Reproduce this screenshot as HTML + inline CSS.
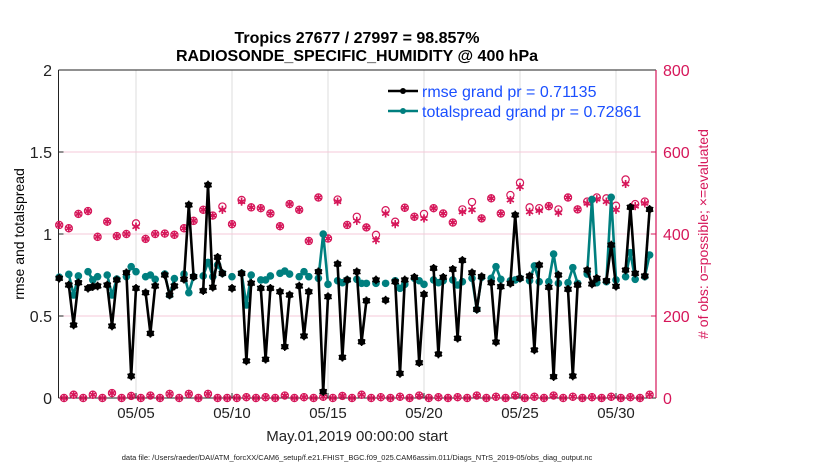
<!DOCTYPE html>
<html><head><meta charset="utf-8"><style>
html,body{margin:0;padding:0;background:#fff;}
svg{display:block;font-family:"Liberation Sans",sans-serif;}
</style></head><body>
<svg id="chart" width="830" height="470" viewBox="0 0 830 470">
<text x="357" y="43" text-anchor="middle" font-size="16" font-weight="bold">Tropics 27677 / 27997 = 98.857%</text>
<text x="357" y="61" text-anchor="middle" font-size="16" font-weight="bold">RADIOSONDE_SPECIFIC_HUMIDITY @ 400 hPa</text>
<g id="grid"></g>
<g id="axes"></g>
<g id="obs"></g>
<g id="spread"></g>
<g id="rmse"></g>
<text transform="translate(24,234) rotate(-90)" text-anchor="middle" font-size="14">rmse and totalspread</text>
<text transform="translate(708,234) rotate(-90)" text-anchor="middle" font-size="14" fill="#d6175a"># of obs: o=possible; ×=evaluated</text>
<text x="357" y="441" text-anchor="middle" font-size="15" fill="#222">May.01,2019 00:00:00 start</text>
<text x="357" y="460" text-anchor="middle" font-size="7.5" fill="#222">data file: /Users/raeder/DAI/ATM_forcXX/CAM6_setup/f.e21.FHIST_BGC.f09_025.CAM6assim.011/Diags_NTrS_2019-05/obs_diag_output.nc</text>
<g>
<line x1="388" y1="91" x2="418" y2="91" stroke="#000" stroke-width="2.5"/>
<circle cx="403" cy="91" r="3" fill="#000"/>
<text x="422" y="97" font-size="16" fill="#1a4fff">rmse grand pr = 0.71135</text>
<line x1="388" y1="111" x2="418" y2="111" stroke="#007f7f" stroke-width="2.5"/>
<circle cx="403" cy="111" r="3" fill="#007f7f"/>
<text x="422" y="117" font-size="16" fill="#1a4fff">totalspread grand pr = 0.72861</text>
</g>
</svg>
<script>
const leftTicks = [0, 0.5, 1, 1.5, 2];
const leftTickLabels = ["0", "0.5", "1", "1.5", "2"];
const rightTicks = [0, 200, 400, 600, 800];
const rightTickLabels = ["0", "200", "400", "600", "800"];
const dateTicks = [4, 9, 14, 19, 24, 29];
const dateTickLabels = ["05/05", "05/10", "05/15", "05/20", "05/25", "05/30"];
const N = null;
const rmse = [0.73,N,0.689,0.445,0.703,N,0.669,0.679,0.683,N,0.689,0.439,0.720,N,0.764,0.134,0.669,N,0.642,0.394,0.683,N,0.75,0.628,0.683,N,0.724,1.177,0.740,N,0.654,1.299,0.675,0.858,0.760,N,0.669,N,0.760,0.226,0.70,N,0.669,0.236,0.669,N,0.648,0.313,0.628,N,0.683,0.378,0.648,N,0.770,0.039,0.618,N,0.817,0.248,0.720,N,0.770,0.343,0.593,N,0.720,N,0.597,N,0.709,0.150,0.720,N,0.736,0.215,0.632,N,0.791,0.268,0.736,N,0.785,0.364,0.839,N,0.764,0.54,0.740,N,0.703,0.341,0.679,N,0.699,1.116,0.730,N,0.744,0.293,0.811,N,0.675,0.130,0.750,N,0.663,0.134,0.689,N,0.780,0.695,0.730,N,0.715,0.933,0.681,N,0.780,1.163,0.760,N,0.744,1.150];
const spread = [0.737,N,0.754,0.628,0.744,N,0.770,0.720,0.740,N,0.750,0.628,0.725,N,0.740,0.801,0.770,N,0.740,0.750,0.724,N,0.756,0.628,0.728,N,0.756,0.642,0.740,N,0.744,0.827,0.740,0.811,0.760,N,0.740,N,0.760,0.567,0.750,N,0.720,0.720,0.744,N,0.760,0.774,0.756,N,0.740,0.770,0.740,N,0.730,1.0,0.693,N,0.715,0.703,0.720,N,0.724,0.699,0.699,N,0.699,N,0.699,N,0.715,0.669,0.693,N,0.730,0.715,0.693,N,0.720,0.703,0.715,N,0.720,0.689,0.709,N,0.730,0.541,0.736,N,0.730,0.801,0.724,N,0.715,0.720,0.730,N,0.715,0.805,0.709,N,0.709,0.878,0.699,N,0.703,0.795,0.699,N,0.756,1.211,0.703,N,0.709,1.224,0.720,N,0.740,0.886,0.724,N,0.740,0.872];
const obsEvaluated = [422,0,414,8,449,0,456,8,393,0,430,12,395,0,400,5,418,0,388,6,400,0,401,10,398,0,414,10,432,0,459,10,445,0,459,0,424,0,479,2,465,0,463,2,450,0,419,6,473,0,459,2,383,0,489,3,389,0,479,5,422,0,432,8,416,0,385,2,450,0,424,3,464,0,442,6,438,0,463,2,450,0,428,2,454,0,459,6,438,0,487,3,450,0,483,6,515,0,454,3,457,0,468,6,452,0,489,3,460,0,475,2,485,0,479,3,459,0,522,2,468,0,475,8];
const obsPossible = [422,0,414,8,449,0,456,8,393,0,430,12,395,0,400,5,426,0,388,6,400,0,401,10,398,0,414,10,432,0,459,10,445,0,467,0,424,0,483,2,465,0,463,2,450,0,419,6,473,0,459,2,383,0,489,3,389,0,484,5,422,0,442,8,416,0,398,2,458,0,430,3,464,0,442,6,449,0,463,2,450,0,428,2,460,0,478,6,438,0,487,3,450,0,495,6,525,0,465,3,463,0,468,6,460,0,489,3,460,0,479,2,489,0,487,3,469,0,533,2,473,0,479,8];

const X0 = 59.2, DX = 4.8, DAYX = 19.2;
const PL = 58.5, PR = 656, PT = 70, PB = 398;
function xBin(k){ return X0 + DX*k; }
function xDay(d){ return X0 + DAYX*d; }
function yL(v){ return PB - (PB-PT)*v/2; }
function yR(n){ return PB - (PB-PT)*n/800; }
const NS = "http://www.w3.org/2000/svg";
function mk(tag, attrs, parent){
  const e = document.createElementNS(NS, tag);
  for (const k in attrs) e.setAttribute(k, attrs[k]);
  parent.appendChild(e);
  return e;
}
const grid = document.getElementById('grid');
const axes = document.getElementById('axes');
const PINK = "#d6175a", TEAL = "#007f7f";

for (let i = 0; i < dateTicks.length; i++) {
  const x = xDay(dateTicks[i]);
  const g = mk('line', {x1:x, x2:x, y1:PT, y2:PB, stroke:"#dcdcdc", "stroke-width":1}, grid);
  
  
  mk('line', {x1:x, x2:x, y1:PB, y2:PB-5, stroke:"#222", "stroke-width":1}, axes);
  const t = mk('text', {x:x, y:418, "text-anchor":"middle", "font-size":15, fill:"#222"}, axes);
  t.textContent = dateTickLabels[i];
  
  
}
for (let i = 1; i < rightTicks.length - 1; i++) {
  const y = yR(rightTicks[i]);
  const g = mk('line', {x1:PL, x2:PR, y1:y, y2:y, stroke:"#f6c9d8", "stroke-width":1}, grid);
  
  
}
for (let i = 0; i < leftTicks.length; i++) {
  const y = yL(leftTicks[i]);
  mk('line', {x1:PL, x2:PL+5, y1:y, y2:y, stroke:"#222"}, axes);
  const t = mk('text', {x:52, y:y+6, "text-anchor":"end", "font-size":16, fill:"#222"}, axes);
  t.textContent = leftTickLabels[i];
  
  
}
for (let i = 0; i < rightTicks.length; i++) {
  const y = yR(rightTicks[i]);
  mk('line', {x1:PR-5, x2:PR, y1:y, y2:y, stroke:PINK}, axes);
  const t = mk('text', {x:663, y:y+6, "text-anchor":"start", "font-size":16, fill:PINK}, axes);
  t.textContent = rightTickLabels[i];
  
  
}
mk('line', {x1:PL, x2:PR, y1:PT, y2:PT, stroke:"#222", "stroke-width":1}, axes);
mk('line', {x1:PL, x2:PR, y1:PB, y2:PB, stroke:"#222", "stroke-width":1}, axes);
mk('line', {x1:PL, x2:PL, y1:PT, y2:PB, stroke:"#222", "stroke-width":1}, axes);
mk('line', {x1:PR, x2:PR, y1:PT, y2:PB, stroke:PINK, "stroke-width":1.2}, axes);

function asterisk(parent, cx, cy, r, color, w){
  const g = mk('g', {stroke:color, "stroke-width":w}, parent);
  for (let a = 0; a < 6; a++) {
    const ang = a*Math.PI/3 + Math.PI/2;
    mk('line', {x1:cx - r*Math.cos(ang), y1:cy - r*Math.sin(ang), x2:cx + r*Math.cos(ang), y2:cy + r*Math.sin(ang)}, g);
  }
  return g;
}

const obsG = document.getElementById('obs');
for (let k = 0; k < obsEvaluated.length; k++) {
  const x = xBin(k);
  const yp = yR(obsPossible[k]);
  const c = mk('circle', {cx:x, cy:yp, r:3.6, fill:"none", stroke:PINK, "stroke-width":1.2}, obsG);
  
  
  const a = asterisk(obsG, x, yR(obsEvaluated[k]), 4, PINK, 1.5);
  
  
}

function drawSeries(gid, vals, color, star){
  const g = document.getElementById(gid);
  let seg = [];
  const segs = [];
  for (let k = 0; k < vals.length; k++) {
    if (vals[k] === null) { if (seg.length) segs.push(seg); seg = []; }
    else seg.push([xBin(k), yL(vals[k])]);
  }
  if (seg.length) segs.push(seg);
  for (const s of segs) {
    if (s.length > 1) {
      const p = mk('polyline', {points:s.map(q=>q.join(',')).join(' '), fill:"none", stroke:color, "stroke-width":2.6, "stroke-linejoin":"round"}, g);
      
      
    }
  }
  for (let k = 0; k < vals.length; k++) {
    if (vals[k] === null) continue;
    const x = xBin(k), y = yL(vals[k]);
    const c = mk('circle', {cx:x, cy:y, r:star?3.5:3.8, fill:color}, g);
    
    
    if (star) asterisk(g, x, y, 4.2, color, 1.4);
  }
}
drawSeries('spread', spread, TEAL, false);
drawSeries('rmse', rmse, "#000", true);
</script>
</body></html>
